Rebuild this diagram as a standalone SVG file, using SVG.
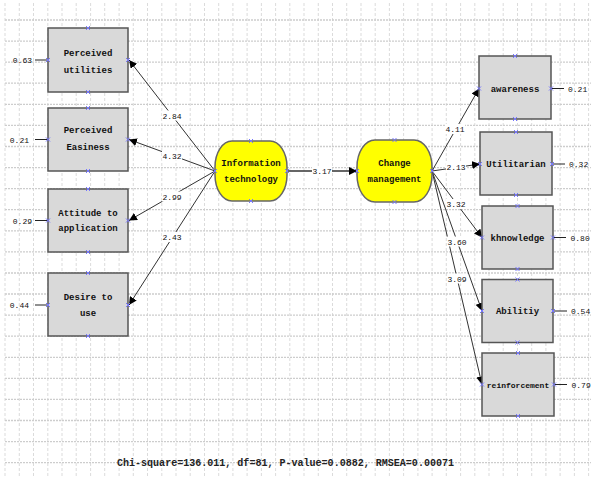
<svg xmlns="http://www.w3.org/2000/svg" width="596" height="481" viewBox="0 0 596 481">
<style>
.gv{stroke:#d2d2d2;stroke-width:0.8;stroke-dasharray:3,2;fill:none}
.gh{stroke:#cdcdcd;stroke-width:1.3;stroke-dasharray:2,1;fill:none}
.box{fill:#d9d9d9;stroke:#555;stroke-width:1.5}
.lat{fill:#ffff00;stroke:#666;stroke-width:1.5}
.nt{font-family:"Liberation Mono","DejaVu Sans Mono",monospace;font-size:9px;font-weight:bold;fill:#111;text-anchor:middle}
.num{font-family:"Liberation Mono","DejaVu Sans Mono",monospace;font-size:8px;fill:#111}
.lab{font-family:"Liberation Mono","DejaVu Sans Mono",monospace;font-size:8px;fill:#111;text-anchor:middle}
.arr{stroke:#333;stroke-width:1;fill:none;marker-end:url(#ah)}
.err{stroke:#222;stroke-width:1;fill:none}
.mk{stroke:#7777ff;stroke-width:1;fill:none}
.bg{fill:#fff}
</style>
<defs>
<marker id="ah" viewBox="0 0 10 10" refX="10" refY="5" markerWidth="8" markerHeight="8" markerUnits="userSpaceOnUse" orient="auto">
<path d="M0,0 L10,5 L0,10 Z" fill="#000"/>
</marker>
<path id="x" d="M-2,-2 L2,2 M-2,2 L2,-2" class="mk"/>
</defs>
<rect width="596" height="481" fill="#fff"/>
<g id="grid">
<path class="gv" d="M5,3V477 M19.3,3V477 M33.5,3V477 M47.8,3V477 M62,3V477 M76.2,3V477 M90.6,3V477 M104.7,3V477 M119.1,3V477 M133.3,3V477 M147.5,3V477 M161.8,3V477 M176,3V477 M190.2,3V477 M204.5,3V477 M218.7,3V477 M232.9,3V477 M247.1,3V477 M261.4,3V477 M275.6,3V477 M289.8,3V477 M304,3V477 M318.3,3V477 M332.5,3V477 M346.7,3V477 M361,3V477 M375.2,3V477 M389.4,3V477 M403.6,3V477 M417.9,3V477 M432.1,3V477 M446.3,3V477 M460.6,3V477 M474.8,3V477 M489,3V477 M503.2,3V477 M517.5,3V477 M531.7,3V477 M545.9,3V477 M560.1,3V477 M574.4,3V477 M588.6,3V477"/>
<path class="gh" d="M5,20H591 M5,41.1H591 M5,62.2H591 M5,83.2H591 M5,104.3H591 M5,125.4H591 M5,146.5H591 M5,167.6H591 M5,188.6H591 M5,209.7H591 M5,230.8H591 M5,251.9H591 M5,273H591 M5,294H591 M5,315.1H591 M5,336.2H591 M5,357.3H591 M5,378.4H591 M5,399.4H591 M5,420.5H591 M5,441.6H591 M5,462.7H591"/>
</g>
<g id="connectors">
<line class="arr" x1="215" y1="171" x2="129" y2="60"/>
<line class="arr" x1="215" y1="171" x2="129" y2="139.5"/>
<line class="arr" x1="215" y1="171" x2="129" y2="220.5"/>
<line class="arr" x1="215" y1="171" x2="129" y2="305"/>
<line class="arr" x1="287" y1="171" x2="357" y2="171" style="stroke-width:1.5"/>
<line class="arr" x1="432" y1="171" x2="479" y2="88.5"/>
<line class="arr" x1="432" y1="171" x2="480" y2="164"/>
<line class="arr" x1="432" y1="171" x2="482" y2="237.5"/>
<line class="arr" x1="432" y1="171" x2="482" y2="311"/>
<line class="arr" x1="432" y1="171" x2="482" y2="384.5"/>
<line class="err" x1="35" y1="60" x2="48" y2="60"/>
<line class="err" x1="35" y1="139.5" x2="48" y2="139.5"/>
<line class="err" x1="35" y1="220.5" x2="48" y2="220.5"/>
<line class="err" x1="35" y1="305" x2="48" y2="305"/>
<line class="err" x1="551" y1="88.5" x2="564" y2="88.5"/>
<line class="err" x1="552" y1="164" x2="565" y2="164"/>
<line class="err" x1="553" y1="237.5" x2="566" y2="237.5"/>
<line class="err" x1="553" y1="311" x2="567" y2="311"/>
<line class="err" x1="554" y1="384.5" x2="567" y2="384.5"/>
<g id="labels">
<rect class="bg" x="162" y="110.5" width="20" height="10"/><text class="lab" x="172" y="118.5">2.84</text>
<rect class="bg" x="162" y="150.5" width="20" height="10"/><text class="lab" x="172" y="158.5">4.32</text>
<rect class="bg" x="162" y="191.5" width="20" height="10"/><text class="lab" x="172" y="199.5">2.99</text>
<rect class="bg" x="162" y="232" width="20" height="10"/><text class="lab" x="172" y="240">2.43</text>
<rect class="bg" x="312" y="166" width="20" height="10"/><text class="lab" x="322" y="174">3.17</text>
<rect class="bg" x="445" y="124" width="20" height="10"/><text class="lab" x="455" y="132">4.11</text>
<rect class="bg" x="446" y="161.5" width="20" height="10"/><text class="lab" x="456" y="169.5">2.13</text>
<rect class="bg" x="446" y="199" width="20" height="10"/><text class="lab" x="456" y="207">3.32</text>
<rect class="bg" x="447" y="236.5" width="20" height="10"/><text class="lab" x="457" y="244.5">3.60</text>
<rect class="bg" x="447" y="273.5" width="20" height="10"/><text class="lab" x="457" y="281.5">3.09</text>
</g>
</g>
<g id="err-left">
<text class="num" x="32" y="63" text-anchor="end">0.63</text>
<text class="num" x="29" y="142.5" text-anchor="end">0.21</text>
<text class="num" x="32" y="223.5" text-anchor="end">0.29</text>
<text class="num" x="29" y="308" text-anchor="end">0.44</text>
</g>
<g id="err-right">
<text class="num" x="568" y="91.5">0.21</text>
<text class="num" x="569" y="167">0.32</text>
<text class="num" x="570.5" y="240.5">0.80</text>
<text class="num" x="571" y="314">0.54</text>
<text class="num" x="571.5" y="387.5">0.79</text>
</g>
<g id="n-perceived-utilities">
<rect class="box" x="48" y="28" width="80" height="64"/>
<text class="nt" x="88" y="56">Perceived</text><text class="nt" x="88" y="72.5">utilities</text>
<use href="#x" x="88" y="28"/><use href="#x" x="88" y="92"/><use href="#x" x="48" y="60"/><use href="#x" x="128" y="60"/>
</g>
<g id="n-perceived-easiness">
<rect class="box" x="48" y="108" width="80" height="63"/>
<text class="nt" x="88" y="133">Perceived</text><text class="nt" x="88" y="150">Easiness</text>
<use href="#x" x="88" y="108"/><use href="#x" x="88" y="171"/><use href="#x" x="48" y="139.5"/><use href="#x" x="128" y="139.5"/>
</g>
<g id="n-attitude">
<rect class="box" x="48" y="189" width="80" height="63"/>
<text class="nt" x="88" y="215.5">Attitude to</text><text class="nt" x="88" y="231">application</text>
<use href="#x" x="88" y="189"/><use href="#x" x="88" y="252"/><use href="#x" x="48" y="220.5"/><use href="#x" x="128" y="220.5"/>
</g>
<g id="n-desire">
<rect class="box" x="48" y="273" width="80" height="63"/>
<text class="nt" x="88" y="300">Desire to</text><text class="nt" x="88" y="316">use</text>
<use href="#x" x="88" y="273"/><use href="#x" x="88" y="336"/><use href="#x" x="48" y="305"/><use href="#x" x="128" y="305"/>
</g>
<g id="n-information-technology">
<rect class="lat" x="215" y="141" width="72" height="60" rx="17" ry="26"/>
<text class="nt" x="251" y="166">Information</text><text class="nt" x="251" y="182">technology</text>
<use href="#x" x="251" y="141"/><use href="#x" x="251" y="201"/><use href="#x" x="215" y="171"/><use href="#x" x="287" y="171"/>
</g>
<g id="n-change-management">
<rect class="lat" x="357" y="140" width="75" height="62" rx="18" ry="27"/>
<text class="nt" x="394.5" y="166">Change</text><text class="nt" x="394.5" y="182">management</text>
<use href="#x" x="394.5" y="140"/><use href="#x" x="394.5" y="202"/><use href="#x" x="357" y="171"/><use href="#x" x="432" y="171"/>
</g>
<g id="n-awareness">
<rect class="box" x="479" y="56" width="72" height="63"/>
<text class="nt" x="515" y="91.5">awareness</text>
<use href="#x" x="515" y="56"/><use href="#x" x="515" y="119"/><use href="#x" x="479" y="88.5"/><use href="#x" x="551" y="88.5"/>
</g>
<g id="n-utilitarian">
<rect class="box" x="480" y="132" width="72" height="63"/>
<text class="nt" x="516" y="167">Utilitarian</text>
<use href="#x" x="516" y="132"/><use href="#x" x="516" y="195"/><use href="#x" x="480" y="164"/><use href="#x" x="552" y="164"/>
</g>
<g id="n-khnowledge">
<rect class="box" x="482" y="206" width="71" height="63"/>
<text class="nt" x="517.5" y="240.5">khnowledge</text>
<use href="#x" x="517.5" y="206"/><use href="#x" x="517.5" y="269"/><use href="#x" x="482" y="237.5"/><use href="#x" x="553" y="237.5"/>
</g>
<g id="n-abilitiy">
<rect class="box" x="482" y="279.5" width="71" height="63"/>
<text class="nt" x="517.5" y="314">Abilitiy</text>
<use href="#x" x="517.5" y="279.5"/><use href="#x" x="517.5" y="342.5"/><use href="#x" x="482" y="311"/><use href="#x" x="553" y="311"/>
</g>
<g id="n-reinforcement">
<rect class="box" x="482" y="353" width="72" height="63"/>
<text class="nt" x="518" y="387.5" style="font-size:8px">reinforcement</text>
<use href="#x" x="518" y="353"/><use href="#x" x="518" y="416"/><use href="#x" x="482" y="384.5"/><use href="#x" x="554" y="384.5"/>
</g>
<text x="117" y="465.5" font-family="'Liberation Mono','DejaVu Sans Mono',monospace" font-size="10" font-weight="bold" fill="#222" textLength="337" lengthAdjust="spacingAndGlyphs">Chi-square=136.011, df=81, P-value=0.0882, RMSEA=0.00071</text>
</svg>
